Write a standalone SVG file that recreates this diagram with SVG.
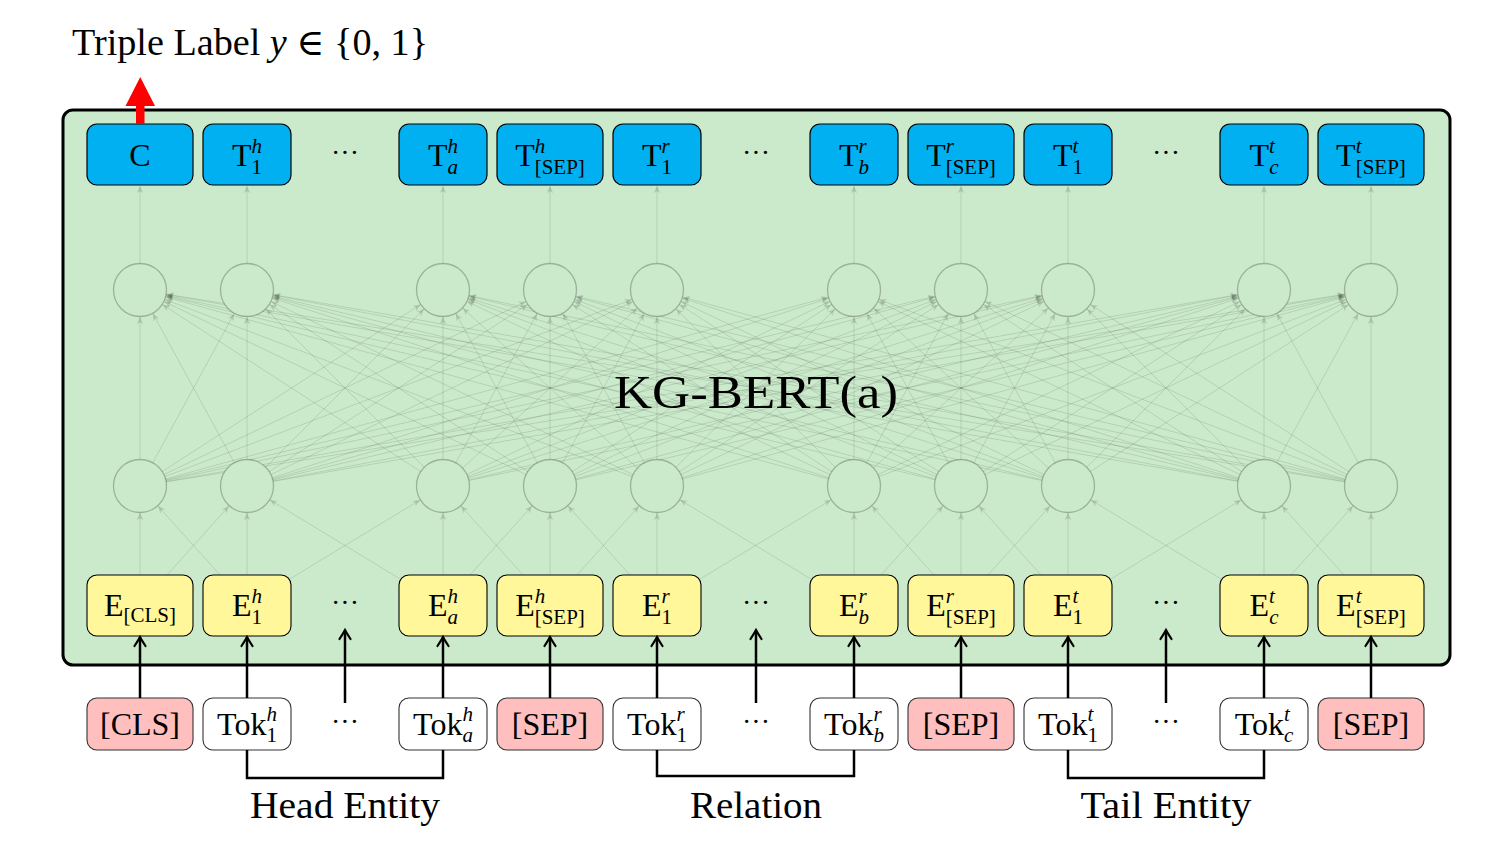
<svg xmlns="http://www.w3.org/2000/svg" width="1488" height="848" viewBox="0 0 1488 848">
<style>
.t{font-family:"Liberation Serif","DejaVu Serif",serif;font-size:32px;fill:#000}
.s{font-size:21px}
.i{font-style:italic}
.nl{stroke:#000;stroke-opacity:0.11;stroke-width:1;fill:none;marker-end:url(#na)}
.vt{stroke:#000;stroke-opacity:0.11;stroke-width:1;fill:none;marker-end:url(#nt)}
.cir{fill:#cbeacb;stroke:#000;stroke-opacity:0.24;stroke-width:1.3}
.ba{stroke:#000;stroke-width:2.5;fill:none;marker-end:url(#ba)}
.br{stroke:#000;stroke-width:2.5;fill:none}
.blue{fill:#00b0f0;stroke:#000;stroke-width:1.2}
.yel{fill:#fff799;stroke:#000;stroke-width:1.1}
.pink{fill:#ffbfbf;stroke:#333;stroke-width:1.1}
.wht{fill:#fff;stroke:#333;stroke-width:1.1}
</style>
<defs>
<marker id="na" markerUnits="userSpaceOnUse" orient="auto" refX="27" refY="0" overflow="visible" markerWidth="10" markerHeight="10">
<path d="M0,0 L-7,-3.2 L-5.2,0 L-7,3.2 Z" fill="#000" fill-opacity="0.13"/>
</marker>
<marker id="nt" markerUnits="userSpaceOnUse" orient="auto" refX="0" refY="0" overflow="visible" markerWidth="10" markerHeight="10">
<path d="M0,0 L-7,-3.2 L-5.2,0 L-7,3.2 Z" fill="#000" fill-opacity="0.13"/>
</marker>
<marker id="ba" markerUnits="userSpaceOnUse" orient="auto" refX="0" refY="0" overflow="visible" markerWidth="14" markerHeight="14">
<path d="M-9,-5.5 Q-3,-1.6 0,0 Q-3,1.6 -9,5.5" fill="none" stroke="#000" stroke-width="2.2" stroke-linecap="round"/>
</marker>
</defs>
<rect width="1488" height="848" fill="#fff"/>
<g id="frame">
<rect x="63" y="110" width="1387" height="555" rx="10" fill="#cbeacb" stroke="#000" stroke-width="3"/>
</g>
<g id="connectors">
<g id="net-top">
<line class="vt" x1="140" y1="290" x2="140" y2="186"/>
<line class="vt" x1="247" y1="290" x2="247" y2="186"/>
<line class="vt" x1="443" y1="290" x2="443" y2="186"/>
<line class="vt" x1="550" y1="290" x2="550" y2="186"/>
<line class="vt" x1="657" y1="290" x2="657" y2="186"/>
<line class="vt" x1="854" y1="290" x2="854" y2="186"/>
<line class="vt" x1="961" y1="290" x2="961" y2="186"/>
<line class="vt" x1="1068" y1="290" x2="1068" y2="186"/>
<line class="vt" x1="1264" y1="290" x2="1264" y2="186"/>
<line class="vt" x1="1371" y1="290" x2="1371" y2="186"/>
</g>
<g id="net-mid">
<line class="nl" x1="140" y1="486" x2="140" y2="290"/><line class="nl" x1="140" y1="486" x2="247" y2="290"/><line class="nl" x1="140" y1="486" x2="443" y2="290"/><line class="nl" x1="140" y1="486" x2="550" y2="290"/><line class="nl" x1="140" y1="486" x2="657" y2="290"/><line class="nl" x1="140" y1="486" x2="854" y2="290"/><line class="nl" x1="140" y1="486" x2="961" y2="290"/><line class="nl" x1="140" y1="486" x2="1068" y2="290"/><line class="nl" x1="140" y1="486" x2="1264" y2="290"/><line class="nl" x1="140" y1="486" x2="1371" y2="290"/>
<line class="nl" x1="247" y1="486" x2="140" y2="290"/><line class="nl" x1="247" y1="486" x2="247" y2="290"/><line class="nl" x1="247" y1="486" x2="443" y2="290"/><line class="nl" x1="247" y1="486" x2="550" y2="290"/><line class="nl" x1="247" y1="486" x2="657" y2="290"/><line class="nl" x1="247" y1="486" x2="854" y2="290"/><line class="nl" x1="247" y1="486" x2="961" y2="290"/><line class="nl" x1="247" y1="486" x2="1068" y2="290"/><line class="nl" x1="247" y1="486" x2="1264" y2="290"/><line class="nl" x1="247" y1="486" x2="1371" y2="290"/>
<line class="nl" x1="443" y1="486" x2="140" y2="290"/><line class="nl" x1="443" y1="486" x2="247" y2="290"/><line class="nl" x1="443" y1="486" x2="443" y2="290"/><line class="nl" x1="443" y1="486" x2="550" y2="290"/><line class="nl" x1="443" y1="486" x2="657" y2="290"/><line class="nl" x1="443" y1="486" x2="854" y2="290"/><line class="nl" x1="443" y1="486" x2="961" y2="290"/><line class="nl" x1="443" y1="486" x2="1068" y2="290"/><line class="nl" x1="443" y1="486" x2="1264" y2="290"/><line class="nl" x1="443" y1="486" x2="1371" y2="290"/>
<line class="nl" x1="550" y1="486" x2="140" y2="290"/><line class="nl" x1="550" y1="486" x2="247" y2="290"/><line class="nl" x1="550" y1="486" x2="443" y2="290"/><line class="nl" x1="550" y1="486" x2="550" y2="290"/><line class="nl" x1="550" y1="486" x2="657" y2="290"/><line class="nl" x1="550" y1="486" x2="854" y2="290"/><line class="nl" x1="550" y1="486" x2="961" y2="290"/><line class="nl" x1="550" y1="486" x2="1068" y2="290"/><line class="nl" x1="550" y1="486" x2="1264" y2="290"/><line class="nl" x1="550" y1="486" x2="1371" y2="290"/>
<line class="nl" x1="657" y1="486" x2="140" y2="290"/><line class="nl" x1="657" y1="486" x2="247" y2="290"/><line class="nl" x1="657" y1="486" x2="443" y2="290"/><line class="nl" x1="657" y1="486" x2="550" y2="290"/><line class="nl" x1="657" y1="486" x2="657" y2="290"/><line class="nl" x1="657" y1="486" x2="854" y2="290"/><line class="nl" x1="657" y1="486" x2="961" y2="290"/><line class="nl" x1="657" y1="486" x2="1068" y2="290"/><line class="nl" x1="657" y1="486" x2="1264" y2="290"/><line class="nl" x1="657" y1="486" x2="1371" y2="290"/>
<line class="nl" x1="854" y1="486" x2="140" y2="290"/><line class="nl" x1="854" y1="486" x2="247" y2="290"/><line class="nl" x1="854" y1="486" x2="443" y2="290"/><line class="nl" x1="854" y1="486" x2="550" y2="290"/><line class="nl" x1="854" y1="486" x2="657" y2="290"/><line class="nl" x1="854" y1="486" x2="854" y2="290"/><line class="nl" x1="854" y1="486" x2="961" y2="290"/><line class="nl" x1="854" y1="486" x2="1068" y2="290"/><line class="nl" x1="854" y1="486" x2="1264" y2="290"/><line class="nl" x1="854" y1="486" x2="1371" y2="290"/>
<line class="nl" x1="961" y1="486" x2="140" y2="290"/><line class="nl" x1="961" y1="486" x2="247" y2="290"/><line class="nl" x1="961" y1="486" x2="443" y2="290"/><line class="nl" x1="961" y1="486" x2="550" y2="290"/><line class="nl" x1="961" y1="486" x2="657" y2="290"/><line class="nl" x1="961" y1="486" x2="854" y2="290"/><line class="nl" x1="961" y1="486" x2="961" y2="290"/><line class="nl" x1="961" y1="486" x2="1068" y2="290"/><line class="nl" x1="961" y1="486" x2="1264" y2="290"/><line class="nl" x1="961" y1="486" x2="1371" y2="290"/>
<line class="nl" x1="1068" y1="486" x2="140" y2="290"/><line class="nl" x1="1068" y1="486" x2="247" y2="290"/><line class="nl" x1="1068" y1="486" x2="443" y2="290"/><line class="nl" x1="1068" y1="486" x2="550" y2="290"/><line class="nl" x1="1068" y1="486" x2="657" y2="290"/><line class="nl" x1="1068" y1="486" x2="854" y2="290"/><line class="nl" x1="1068" y1="486" x2="961" y2="290"/><line class="nl" x1="1068" y1="486" x2="1068" y2="290"/><line class="nl" x1="1068" y1="486" x2="1264" y2="290"/><line class="nl" x1="1068" y1="486" x2="1371" y2="290"/>
<line class="nl" x1="1264" y1="486" x2="140" y2="290"/><line class="nl" x1="1264" y1="486" x2="247" y2="290"/><line class="nl" x1="1264" y1="486" x2="443" y2="290"/><line class="nl" x1="1264" y1="486" x2="550" y2="290"/><line class="nl" x1="1264" y1="486" x2="657" y2="290"/><line class="nl" x1="1264" y1="486" x2="854" y2="290"/><line class="nl" x1="1264" y1="486" x2="961" y2="290"/><line class="nl" x1="1264" y1="486" x2="1068" y2="290"/><line class="nl" x1="1264" y1="486" x2="1264" y2="290"/><line class="nl" x1="1264" y1="486" x2="1371" y2="290"/>
<line class="nl" x1="1371" y1="486" x2="140" y2="290"/><line class="nl" x1="1371" y1="486" x2="247" y2="290"/><line class="nl" x1="1371" y1="486" x2="443" y2="290"/><line class="nl" x1="1371" y1="486" x2="550" y2="290"/><line class="nl" x1="1371" y1="486" x2="657" y2="290"/><line class="nl" x1="1371" y1="486" x2="854" y2="290"/><line class="nl" x1="1371" y1="486" x2="961" y2="290"/><line class="nl" x1="1371" y1="486" x2="1068" y2="290"/><line class="nl" x1="1371" y1="486" x2="1264" y2="290"/><line class="nl" x1="1371" y1="486" x2="1371" y2="290"/>
</g>
<g id="net-bottom">
<line class="nl" x1="140" y1="605" x2="140" y2="486"/><line class="nl" x1="140" y1="605" x2="247" y2="486"/>
<line class="nl" x1="247" y1="605" x2="140" y2="486"/><line class="nl" x1="247" y1="605" x2="247" y2="486"/><line class="nl" x1="247" y1="605" x2="443" y2="486"/>
<line class="nl" x1="443" y1="605" x2="247" y2="486"/><line class="nl" x1="443" y1="605" x2="443" y2="486"/><line class="nl" x1="443" y1="605" x2="550" y2="486"/>
<line class="nl" x1="550" y1="605" x2="443" y2="486"/><line class="nl" x1="550" y1="605" x2="550" y2="486"/><line class="nl" x1="550" y1="605" x2="657" y2="486"/>
<line class="nl" x1="657" y1="605" x2="550" y2="486"/><line class="nl" x1="657" y1="605" x2="657" y2="486"/><line class="nl" x1="657" y1="605" x2="854" y2="486"/>
<line class="nl" x1="854" y1="605" x2="657" y2="486"/><line class="nl" x1="854" y1="605" x2="854" y2="486"/><line class="nl" x1="854" y1="605" x2="961" y2="486"/>
<line class="nl" x1="961" y1="605" x2="854" y2="486"/><line class="nl" x1="961" y1="605" x2="961" y2="486"/><line class="nl" x1="961" y1="605" x2="1068" y2="486"/>
<line class="nl" x1="1068" y1="605" x2="961" y2="486"/><line class="nl" x1="1068" y1="605" x2="1068" y2="486"/><line class="nl" x1="1068" y1="605" x2="1264" y2="486"/>
<line class="nl" x1="1264" y1="605" x2="1068" y2="486"/><line class="nl" x1="1264" y1="605" x2="1264" y2="486"/><line class="nl" x1="1264" y1="605" x2="1371" y2="486"/>
<line class="nl" x1="1371" y1="605" x2="1264" y2="486"/><line class="nl" x1="1371" y1="605" x2="1371" y2="486"/>
</g>
</g>
<g id="hidden-upper">
<circle class="cir" cx="140" cy="290" r="26.5"/><circle class="cir" cx="247" cy="290" r="26.5"/><circle class="cir" cx="443" cy="290" r="26.5"/><circle class="cir" cx="550" cy="290" r="26.5"/><circle class="cir" cx="657" cy="290" r="26.5"/><circle class="cir" cx="854" cy="290" r="26.5"/><circle class="cir" cx="961" cy="290" r="26.5"/><circle class="cir" cx="1068" cy="290" r="26.5"/><circle class="cir" cx="1264" cy="290" r="26.5"/><circle class="cir" cx="1371" cy="290" r="26.5"/>
</g>
<g id="hidden-lower">
<circle class="cir" cx="140" cy="486" r="26.5"/><circle class="cir" cx="247" cy="486" r="26.5"/><circle class="cir" cx="443" cy="486" r="26.5"/><circle class="cir" cx="550" cy="486" r="26.5"/><circle class="cir" cx="657" cy="486" r="26.5"/><circle class="cir" cx="854" cy="486" r="26.5"/><circle class="cir" cx="961" cy="486" r="26.5"/><circle class="cir" cx="1068" cy="486" r="26.5"/><circle class="cir" cx="1264" cy="486" r="26.5"/><circle class="cir" cx="1371" cy="486" r="26.5"/>
</g>
<text class="t" x="756" y="408" text-anchor="middle" textLength="284" lengthAdjust="spacingAndGlyphs" style="font-size:47px">KG-BERT(a)</text>
<g id="outputs">
<g id="T-C"><rect class="blue" x="87" y="124" width="106" height="61" rx="10"/><text class="t" x="140" y="166" text-anchor="middle">C</text></g>
<g id="T-h1"><rect class="blue" x="203" y="124" width="88" height="61" rx="10"/><text class="t" x="247" y="166" text-anchor="middle">T<tspan class="s i" dy="-13">h</tspan><tspan class="s" dx="-10.5" dy="21">1</tspan></text></g>
<text class="t" x="345" y="162" text-anchor="middle" style="font-size:28px">···</text>
<g id="T-ha"><rect class="blue" x="399" y="124" width="88" height="61" rx="10"/><text class="t" x="443" y="166" text-anchor="middle">T<tspan class="s i" dy="-13">h</tspan><tspan class="s i" dx="-10.5" dy="21">a</tspan></text></g>
<g id="T-hsep"><rect class="blue" x="497" y="124" width="106" height="61" rx="10"/><text class="t" x="550" y="166" text-anchor="middle">T<tspan class="s i" dy="-13">h</tspan><tspan class="s" dx="-10.5" dy="21">[SEP]</tspan></text></g>
<g id="T-r1"><rect class="blue" x="613" y="124" width="88" height="61" rx="10"/><text class="t" x="657" y="166" text-anchor="middle">T<tspan class="s i" dy="-13">r</tspan><tspan class="s" dx="-8.2" dy="21">1</tspan></text></g>
<text class="t" x="756" y="162" text-anchor="middle" style="font-size:28px">···</text>
<g id="T-rb"><rect class="blue" x="810" y="124" width="88" height="61" rx="10"/><text class="t" x="854" y="166" text-anchor="middle">T<tspan class="s i" dy="-13">r</tspan><tspan class="s i" dx="-8.2" dy="21">b</tspan></text></g>
<g id="T-rsep"><rect class="blue" x="908" y="124" width="106" height="61" rx="10"/><text class="t" x="961" y="166" text-anchor="middle">T<tspan class="s i" dy="-13">r</tspan><tspan class="s" dx="-8.2" dy="21">[SEP]</tspan></text></g>
<g id="T-t1"><rect class="blue" x="1024" y="124" width="88" height="61" rx="10"/><text class="t" x="1068" y="166" text-anchor="middle">T<tspan class="s i" dy="-13">t</tspan><tspan class="s" dx="-5.8" dy="21">1</tspan></text></g>
<text class="t" x="1166" y="162" text-anchor="middle" style="font-size:28px">···</text>
<g id="T-tc"><rect class="blue" x="1220" y="124" width="88" height="61" rx="10"/><text class="t" x="1264" y="166" text-anchor="middle">T<tspan class="s i" dy="-13">t</tspan><tspan class="s i" dx="-5.8" dy="21">c</tspan></text></g>
<g id="T-tsep"><rect class="blue" x="1318" y="124" width="106" height="61" rx="10"/><text class="t" x="1371" y="166" text-anchor="middle">T<tspan class="s i" dy="-13">t</tspan><tspan class="s" dx="-5.8" dy="21">[SEP]</tspan></text></g>
</g>
<g id="embeddings">
<g id="E-cls"><rect class="yel" x="87" y="575" width="106" height="61" rx="10"/><text class="t" x="140" y="616" text-anchor="middle">E<tspan class="s" dy="6">[CLS]</tspan></text></g>
<g id="E-h1"><rect class="yel" x="203" y="575" width="88" height="61" rx="10"/><text class="t" x="247" y="616" text-anchor="middle">E<tspan class="s i" dy="-13">h</tspan><tspan class="s" dx="-10.5" dy="21">1</tspan></text></g>
<text class="t" x="345" y="612" text-anchor="middle" style="font-size:28px">···</text>
<g id="E-ha"><rect class="yel" x="399" y="575" width="88" height="61" rx="10"/><text class="t" x="443" y="616" text-anchor="middle">E<tspan class="s i" dy="-13">h</tspan><tspan class="s i" dx="-10.5" dy="21">a</tspan></text></g>
<g id="E-hsep"><rect class="yel" x="497" y="575" width="106" height="61" rx="10"/><text class="t" x="550" y="616" text-anchor="middle">E<tspan class="s i" dy="-13">h</tspan><tspan class="s" dx="-10.5" dy="21">[SEP]</tspan></text></g>
<g id="E-r1"><rect class="yel" x="613" y="575" width="88" height="61" rx="10"/><text class="t" x="657" y="616" text-anchor="middle">E<tspan class="s i" dy="-13">r</tspan><tspan class="s" dx="-8.2" dy="21">1</tspan></text></g>
<text class="t" x="756" y="612" text-anchor="middle" style="font-size:28px">···</text>
<g id="E-rb"><rect class="yel" x="810" y="575" width="88" height="61" rx="10"/><text class="t" x="854" y="616" text-anchor="middle">E<tspan class="s i" dy="-13">r</tspan><tspan class="s i" dx="-8.2" dy="21">b</tspan></text></g>
<g id="E-rsep"><rect class="yel" x="908" y="575" width="106" height="61" rx="10"/><text class="t" x="961" y="616" text-anchor="middle">E<tspan class="s i" dy="-13">r</tspan><tspan class="s" dx="-8.2" dy="21">[SEP]</tspan></text></g>
<g id="E-t1"><rect class="yel" x="1024" y="575" width="88" height="61" rx="10"/><text class="t" x="1068" y="616" text-anchor="middle">E<tspan class="s i" dy="-13">t</tspan><tspan class="s" dx="-5.8" dy="21">1</tspan></text></g>
<text class="t" x="1166" y="612" text-anchor="middle" style="font-size:28px">···</text>
<g id="E-tc"><rect class="yel" x="1220" y="575" width="88" height="61" rx="10"/><text class="t" x="1264" y="616" text-anchor="middle">E<tspan class="s i" dy="-13">t</tspan><tspan class="s i" dx="-5.8" dy="21">c</tspan></text></g>
<g id="E-tsep"><rect class="yel" x="1318" y="575" width="106" height="61" rx="10"/><text class="t" x="1371" y="616" text-anchor="middle">E<tspan class="s i" dy="-13">t</tspan><tspan class="s" dx="-5.8" dy="21">[SEP]</tspan></text></g>
</g>
<g id="tokens">
<g id="tok-cls"><rect class="pink" x="87" y="698" width="106" height="52" rx="10"/><text class="t" x="140" y="735" text-anchor="middle">[CLS]</text></g>
<g id="tok-h1"><rect class="wht" x="203" y="698" width="88" height="52" rx="10"/><text class="t" x="247" y="735" text-anchor="middle">Tok<tspan class="s i" dy="-14">h</tspan><tspan class="s" dx="-10.5" dy="21">1</tspan></text></g>
<text class="t" x="345" y="731" text-anchor="middle" style="font-size:28px">···</text>
<g id="tok-ha"><rect class="wht" x="399" y="698" width="88" height="52" rx="10"/><text class="t" x="443" y="735" text-anchor="middle">Tok<tspan class="s i" dy="-14">h</tspan><tspan class="s i" dx="-10.5" dy="21">a</tspan></text></g>
<g id="tok-sep1"><rect class="pink" x="497" y="698" width="106" height="52" rx="10"/><text class="t" x="550" y="735" text-anchor="middle">[SEP]</text></g>
<g id="tok-r1"><rect class="wht" x="613" y="698" width="88" height="52" rx="10"/><text class="t" x="657" y="735" text-anchor="middle">Tok<tspan class="s i" dy="-14">r</tspan><tspan class="s" dx="-8.2" dy="21">1</tspan></text></g>
<text class="t" x="756" y="731" text-anchor="middle" style="font-size:28px">···</text>
<g id="tok-rb"><rect class="wht" x="810" y="698" width="88" height="52" rx="10"/><text class="t" x="854" y="735" text-anchor="middle">Tok<tspan class="s i" dy="-14">r</tspan><tspan class="s i" dx="-8.2" dy="21">b</tspan></text></g>
<g id="tok-sep2"><rect class="pink" x="908" y="698" width="106" height="52" rx="10"/><text class="t" x="961" y="735" text-anchor="middle">[SEP]</text></g>
<g id="tok-t1"><rect class="wht" x="1024" y="698" width="88" height="52" rx="10"/><text class="t" x="1068" y="735" text-anchor="middle">Tok<tspan class="s i" dy="-14">t</tspan><tspan class="s" dx="-5.8" dy="21">1</tspan></text></g>
<text class="t" x="1166" y="731" text-anchor="middle" style="font-size:28px">···</text>
<g id="tok-tc"><rect class="wht" x="1220" y="698" width="88" height="52" rx="10"/><text class="t" x="1264" y="735" text-anchor="middle">Tok<tspan class="s i" dy="-14">t</tspan><tspan class="s i" dx="-5.8" dy="21">c</tspan></text></g>
<g id="tok-sep3"><rect class="pink" x="1318" y="698" width="106" height="52" rx="10"/><text class="t" x="1371" y="735" text-anchor="middle">[SEP]</text></g>
</g>
<g id="input-arrows">
<line class="ba" x1="140" y1="698" x2="140" y2="637"/>
<line class="ba" x1="247" y1="698" x2="247" y2="637"/>
<line class="ba" x1="345" y1="703" x2="345" y2="630"/>
<line class="ba" x1="443" y1="698" x2="443" y2="637"/>
<line class="ba" x1="550" y1="698" x2="550" y2="637"/>
<line class="ba" x1="657" y1="698" x2="657" y2="637"/>
<line class="ba" x1="756" y1="703" x2="756" y2="630"/>
<line class="ba" x1="854" y1="698" x2="854" y2="637"/>
<line class="ba" x1="961" y1="698" x2="961" y2="637"/>
<line class="ba" x1="1068" y1="698" x2="1068" y2="637"/>
<line class="ba" x1="1166" y1="703" x2="1166" y2="630"/>
<line class="ba" x1="1264" y1="698" x2="1264" y2="637"/>
<line class="ba" x1="1371" y1="698" x2="1371" y2="637"/>
</g>
<g id="brackets">
<path class="br" d="M247,750 V778 H443 V750"/>
<path class="br" d="M657,750 V776 H854 V750"/>
<path class="br" d="M1068,750 V778 H1264 V750"/>
</g>
<g id="output-arrow">
<rect x="136" y="103" width="8.5" height="21" fill="#f00"/>
<polygon points="140.25,77 155,106 125.5,106" fill="#f00"/>
</g>
<text class="t" x="72" y="55" textLength="356" lengthAdjust="spacingAndGlyphs" style="font-size:37px">Triple Label <tspan class="i">y</tspan> ∈ {0, 1}</text>
<text class="t" x="345" y="818" text-anchor="middle" textLength="190" lengthAdjust="spacingAndGlyphs" style="font-size:37px">Head Entity</text>
<text class="t" x="756" y="818" text-anchor="middle" textLength="132" lengthAdjust="spacingAndGlyphs" style="font-size:37px">Relation</text>
<text class="t" x="1166" y="818" text-anchor="middle" textLength="171" lengthAdjust="spacingAndGlyphs" style="font-size:37px">Tail Entity</text>
</svg>
